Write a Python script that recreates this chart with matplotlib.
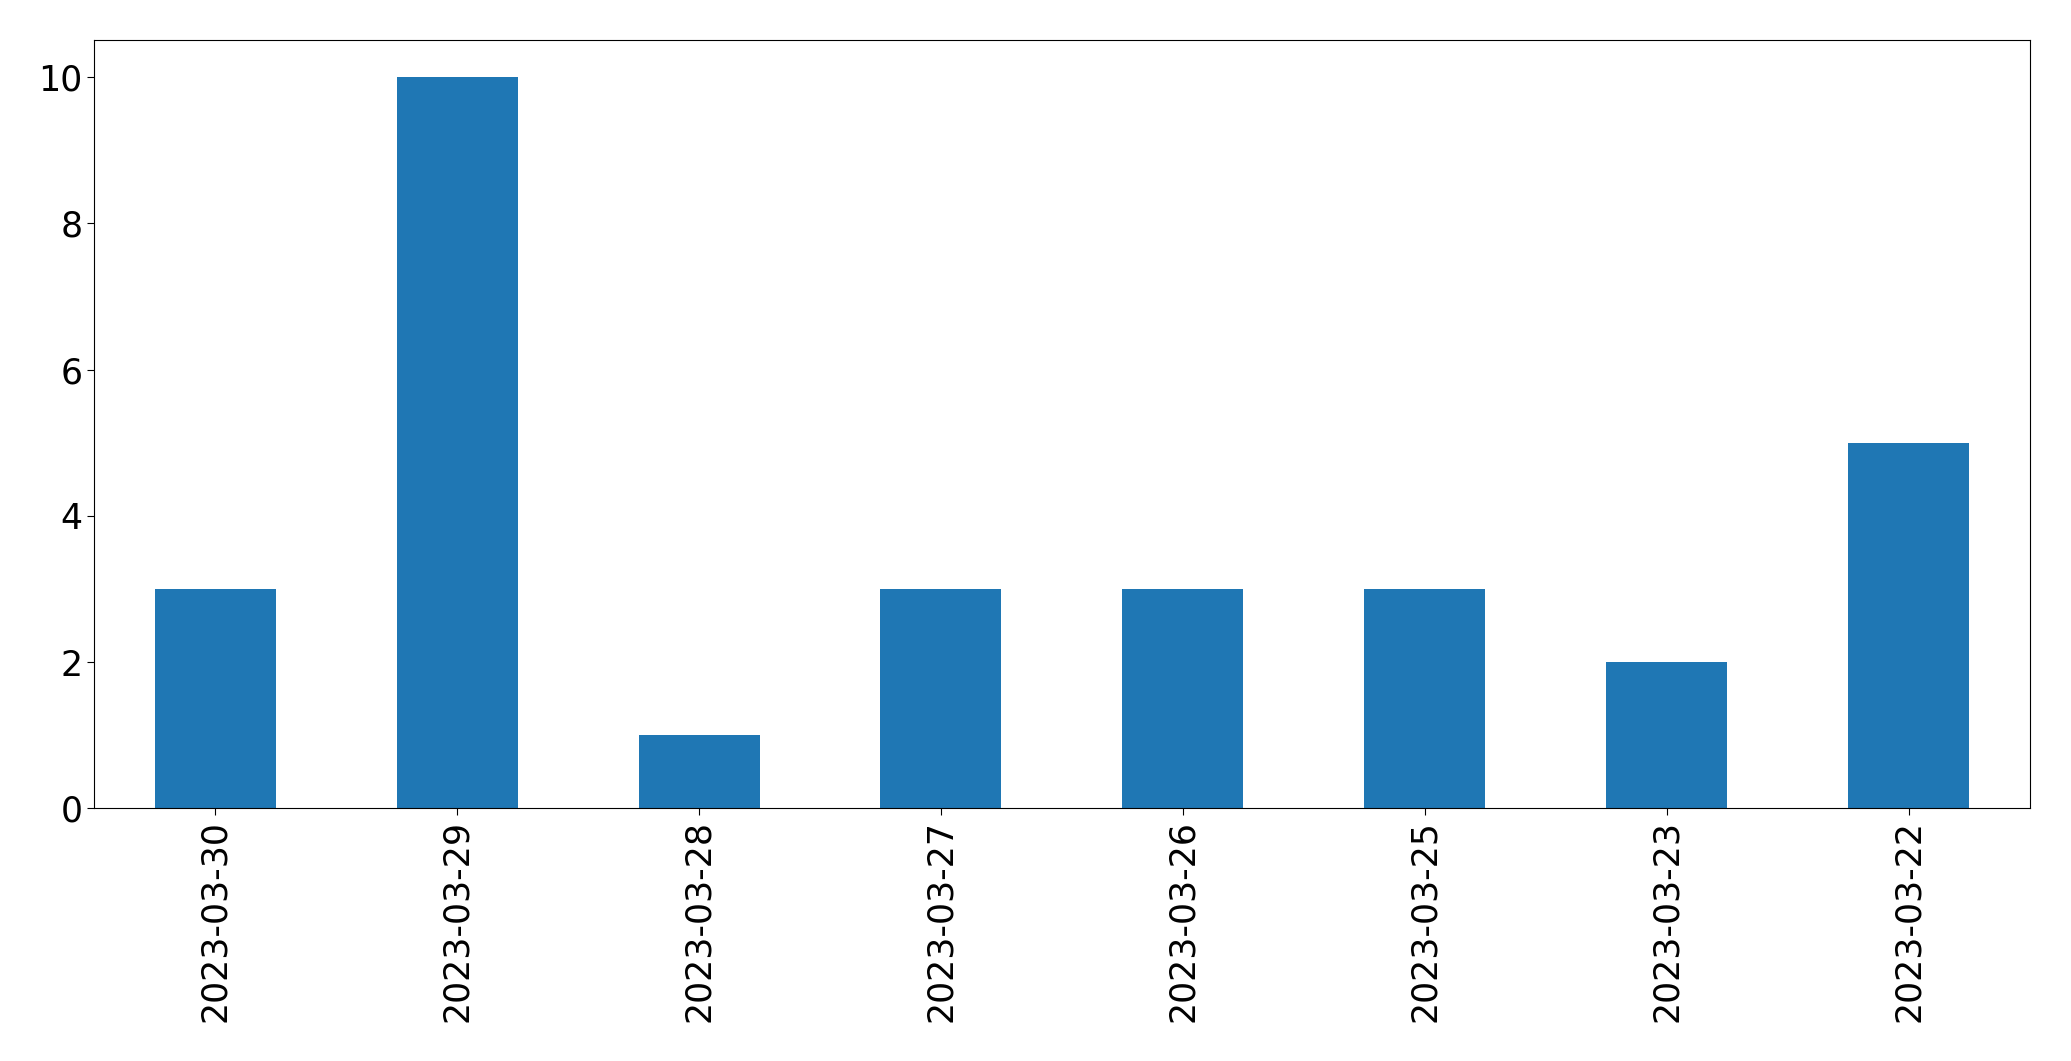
import matplotlib
matplotlib.use("Agg")
import matplotlib.pyplot as plt
import pandas as pd

dates = ["2023-03-30", "2023-03-29", "2023-03-28", "2023-03-27",
         "2023-03-26", "2023-03-25", "2023-03-23", "2023-03-22"]
counts = [3, 10, 1, 3, 3, 3, 2, 5]

s = pd.Series(counts, index=dates)

fig = plt.figure(figsize=(20.71, 10.61), dpi=100)
ax = fig.add_axes([0.0455, 0.238, 0.9345, 0.724])
s.plot(kind="bar", ax=ax, color="#1f77b4")
ax.tick_params(axis="both", labelsize=25, length=5)

fig.savefig("out.png", dpi=100)
